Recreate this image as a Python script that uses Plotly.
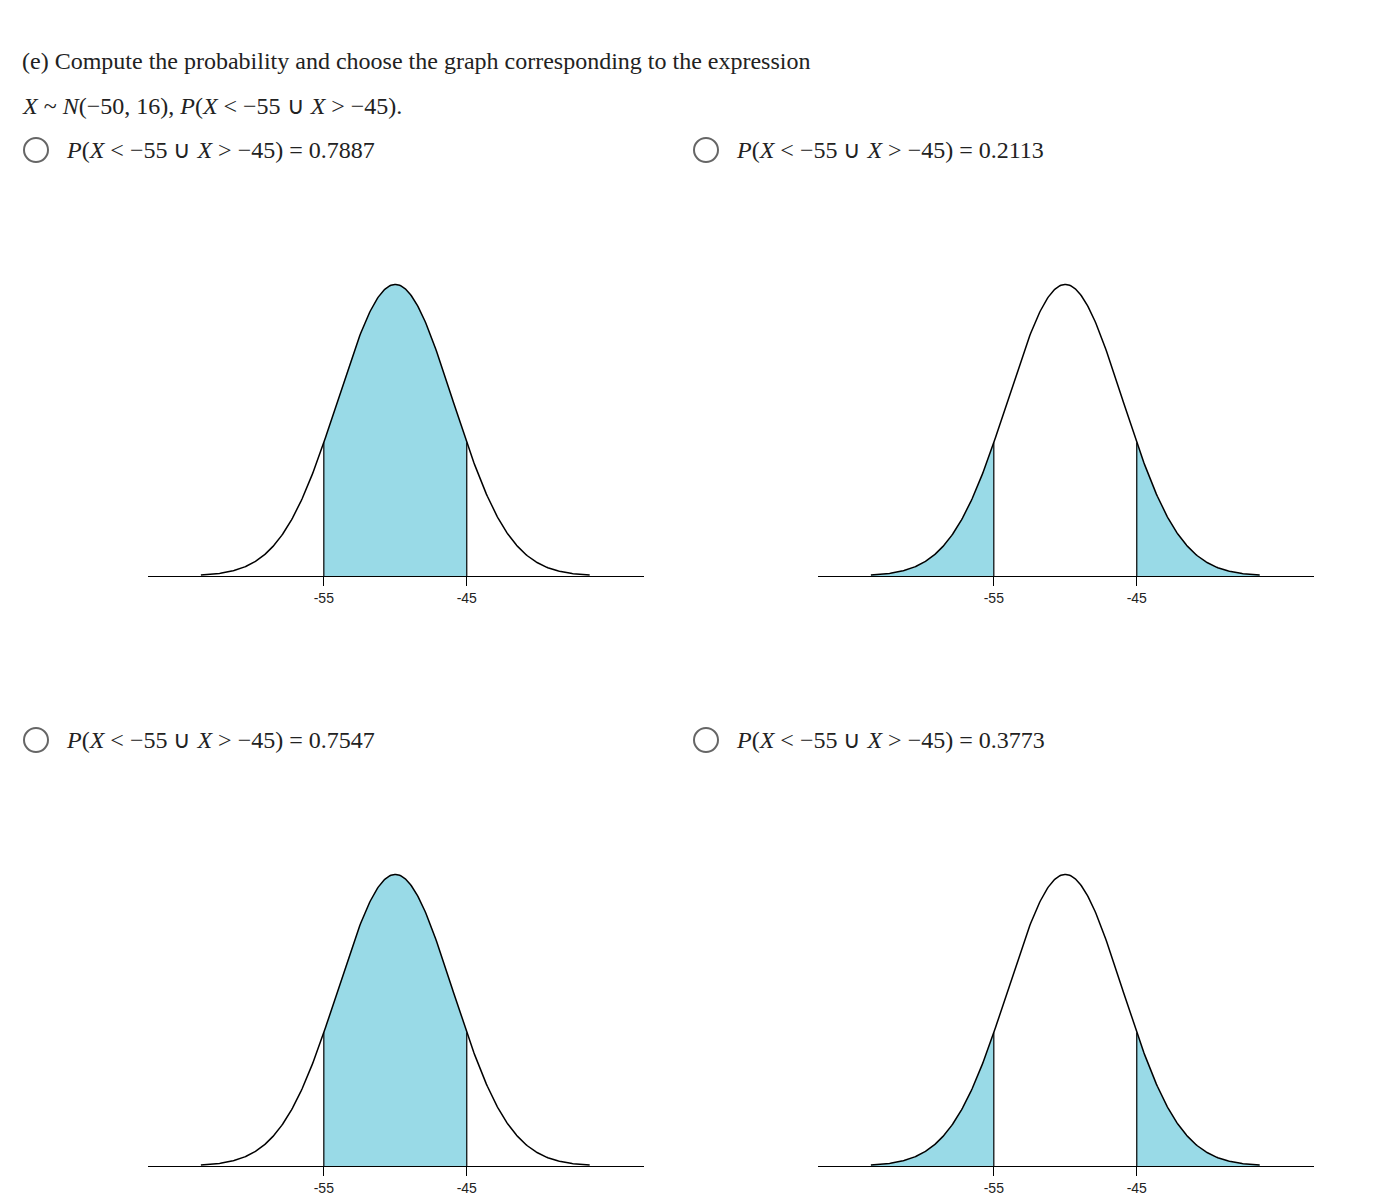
import numpy as np
import plotly.graph_objects as go

W, H = 1390, 1204
mu, sd = -50, 4
lo, hi = -55, -45
tick_vals = [-55, -45]
tick_text = ["-55", "-45"]
options = ["0.7887", "0.2113", "0.7547", "0.3773"]
shade_mode = ["middle", "tails", "middle", "tails"]
x_range = [-67.3, -32.6]
curve_span = [-63.6, -36.4]

def pdf(x):
    return np.exp(-0.5 * ((x - mu) / sd) ** 2) / (sd * np.sqrt(2 * np.pi))

fig = go.Figure()
panels = [(140, 636, 568, 275), (810, 1306, 568, 275), (140, 636, 1158, 865), (810, 1306, 1158, 865)]
fill = "#99DAE7"
pmax = pdf(mu)
for i, (x0, x1, yb, yt) in enumerate(panels):
    n = "" if i == 0 else str(i + 1)
    xa, ya = "x" + n, "y" + n
    fig.update_layout(**{
        "xaxis" + n: dict(domain=[x0 / W, x1 / W], range=x_range, showline=True, linecolor="black",
                          linewidth=1, ticks="outside", ticklen=9, tickcolor="black", tickvals=tick_vals,
                          ticktext=tick_text, showgrid=False, zeroline=False, anchor=ya,
                          tickfont=dict(family="Liberation Sans, Arial", size=14, color="#222")),
        "yaxis" + n: dict(domain=[1 - yb / H, 1 - yt / H], range=[0, pmax * 1.005], visible=False,
                          anchor=xa),
    })
    xs = np.linspace(curve_span[0], curve_span[1], 400)
    if shade_mode[i] == "middle":
        segs = [np.linspace(lo, hi, 200)]
    else:
        segs = [np.linspace(curve_span[0], lo, 200), np.linspace(hi, curve_span[1], 200)]
    for s in segs:
        fig.add_trace(go.Scatter(x=s, y=pdf(s), fill="tozeroy", fillcolor=fill, mode="none",
                                 xaxis=xa, yaxis=ya, showlegend=False, hoverinfo="skip"))
    fig.add_trace(go.Scatter(x=xs, y=pdf(xs), mode="lines", line=dict(color="black", width=1.5),
                             xaxis=xa, yaxis=ya, showlegend=False))
    for b in (lo, hi):
        fig.add_trace(go.Scatter(x=[b, b], y=[0, pdf(b)], mode="lines", line=dict(color="black", width=1.2),
                                 xaxis=xa, yaxis=ya, showlegend=False))

serif = "Liberation Serif, Times New Roman, serif"
ann = [
    (12, 53, "(e) Compute the probability and choose the graph corresponding to the expression"),
    (12, 98, "<i>X</i> ~ <i>N</i>(−50, 16), <i>P</i>(<i>X</i> &lt; −55 ∪ <i>X</i> &gt; −45)."),
]
pos = [(56, 142), (726, 142), (56, 732), (726, 732)]
for (px, py), v in zip(pos, options):
    ann.append((px, py, "<i>P</i>(<i>X</i> &lt; −55 ∪ <i>X</i> &gt; −45) = " + v))
for px, py, t in ann:
    fig.add_annotation(x=px / W, y=1 - py / H, xref="paper", yref="paper", text=t, showarrow=False,
                       xanchor="left", yanchor="middle", font=dict(family=serif, size=24, color="#222"))
for px, py in pos:
    cx = px - 28
    fig.add_shape(type="circle", xref="paper", yref="paper", x0=(cx - 12) / W, x1=(cx + 12) / W,
                  y0=1 - (py + 12) / H, y1=1 - (py - 12) / H, line=dict(color="#666", width=2))

fig.update_layout(width=W, height=H, margin=dict(l=0, r=0, t=0, b=0), plot_bgcolor="white",
                  paper_bgcolor="white")
fig.write_html("out.html")
